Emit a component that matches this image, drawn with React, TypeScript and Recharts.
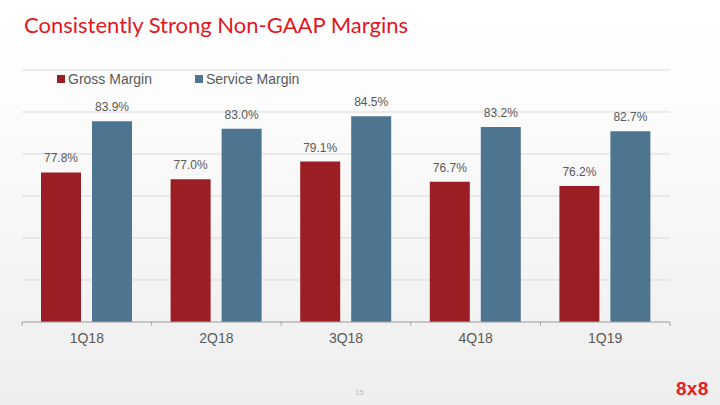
import {
  BarChart,
  Bar,
  XAxis,
  YAxis,
  CartesianGrid,
  LabelList,
} from "recharts";

const quarters = ["1Q18", "2Q18", "3Q18", "4Q18", "1Q19"];
const grossMargin = [77.8, 77.0, 79.1, 76.7, 76.2];
const serviceMargin = [83.9, 83.0, 84.5, 83.2, 82.7];
const yTicks = [60, 65, 70, 75, 80, 85, 90];

const RED = "#9b1e24";
const BLUE = "#4e758f";
const TEXT = "#595959";
const BAND = 129.6;

const data = quarters.map((q, i) => ({
  quarter: q,
  gross: grossMargin[i],
  service: serviceMargin[i],
}));

const legendItems = [
  { name: "Gross Margin", color: RED },
  { name: "Service Margin", color: BLUE },
];

function QuarterTick({ x, y, payload, index }: any) {
  const half = BAND / 2;
  return (
    <g>
      <line x1={x - half} y1={y} x2={x - half} y2={y + 4} stroke="#a6a6a6" />
      {index === quarters.length - 1 && (
        <line x1={x + half} y1={y} x2={x + half} y2={y + 4} stroke="#a6a6a6" />
      )}
      <text
        x={x}
        y={y + 21}
        textAnchor="middle"
        fill={TEXT}
        fontSize={14}
        fontFamily="Liberation Sans, Arial, sans-serif"
      >
        {payload.value}
      </text>
    </g>
  );
}

export default function App() {
  return (
    <div
      style={{
        position: "absolute",
        left: 0,
        top: 0,
        width: 720,
        height: 405,
        overflow: "hidden",
        background:
          "linear-gradient(to bottom, #ffffff 0%, #fdfdfd 20%, #eeeeee 100%)",
      }}
    >
      <div
        style={{
          position: "absolute",
          left: 24,
          top: 11,
          fontFamily: "Lato, sans-serif",
          fontSize: 22,
          color: "#e3161f",
          whiteSpace: "nowrap",
        }}
      >
        Consistently Strong Non-GAAP Margins
      </div>

      <BarChart
        width={720}
        height={405}
        data={data}
        margin={{ top: 70, right: 50, bottom: 53, left: 22 }}
        barGap={11}
        barSize={40}
      >
        <CartesianGrid vertical={false} stroke="#d9d9d9" />
        <YAxis hide domain={[60, 90]} ticks={yTicks} />
        <XAxis
          dataKey="quarter"
          height={30}
          tickLine={false}
          tickSize={0}
          tickMargin={0}
          axisLine={{ stroke: "#a6a6a6" }}
          tick={<QuarterTick />}
          interval={0}
        />
        <Bar
          dataKey="gross"
          name="Gross Margin"
          fill={RED}
          isAnimationActive={false}
        >
          <LabelList
            dataKey="gross"
            position="top"
            offset={10}
            fill={TEXT}
            fontSize={12}
            fontFamily="Liberation Sans, Arial, sans-serif"
            formatter={(v: any) => `${Number(v).toFixed(1)}%`}
          />
        </Bar>
        <Bar
          dataKey="service"
          name="Service Margin"
          fill={BLUE}
          isAnimationActive={false}
        >
          <LabelList
            dataKey="service"
            position="top"
            offset={10}
            fill={TEXT}
            fontSize={12}
            fontFamily="Liberation Sans, Arial, sans-serif"
            formatter={(v: any) => `${Number(v).toFixed(1)}%`}
          />
        </Bar>
      </BarChart>

      <div
        style={{
          position: "absolute",
          left: 57,
          top: 71,
          display: "flex",
          fontFamily: "Liberation Sans, Arial, sans-serif",
          fontSize: 14,
          color: TEXT,
          lineHeight: "16px",
        }}
      >
        {legendItems.map((it) => (
          <div
            key={it.name}
            style={{ display: "flex", alignItems: "center", width: 138 }}
          >
            <span
              style={{
                width: 8,
                height: 8,
                background: it.color,
                marginRight: 3,
                display: "inline-block",
              }}
            />
            {it.name}
          </div>
        ))}
      </div>

      <div
        style={{
          position: "absolute",
          left: 355,
          top: 388,
          fontSize: 8,
          color: "#c0c0c0",
          fontFamily: "Liberation Sans, Arial, sans-serif",
        }}
      >
        15
      </div>
      <div
        style={{
          position: "absolute",
          left: 676,
          top: 378,
          fontSize: 19,
          fontWeight: "bold",
          color: "#e8201f",
          fontFamily: "Liberation Sans, Arial, sans-serif",
          letterSpacing: 0.3,
        }}
      >
        8x8
      </div>
    </div>
  );
}
